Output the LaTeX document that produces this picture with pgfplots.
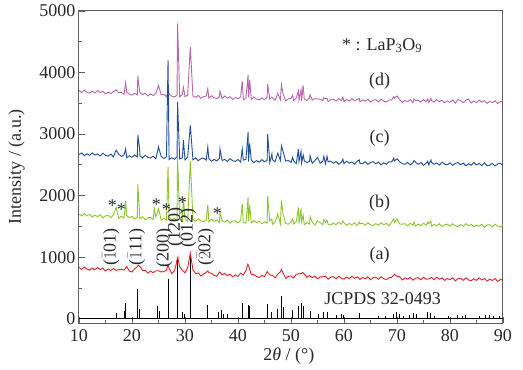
\documentclass[border=0pt]{standalone}
\usepackage{pgfplots}
\pgfplotsset{compat=1.18}
\usepackage{fontspec}
\setmainfont{Liberation Serif}
\definecolor{cRed}{RGB}{228,32,36}
\definecolor{cGreen}{RGB}{140,198,45}
\definecolor{cBlue}{RGB}{32,78,160}
\definecolor{cPurple}{RGB}{182,102,172}
\definecolor{cFrame}{RGB}{95,95,95}
\definecolor{cText}{RGB}{40,40,40}
\begin{document}
\begin{tikzpicture}
\path[use as bounding box] (-79pt,-47pt) rectangle (444pt,323pt);
\begin{axis}[
  scale only axis, width=424pt, height=312pt,
  xmin=10, xmax=90, ymin=-70, ymax=5000,
  xtick={10,20,...,90}, ytick={0,1000,...,5000},
  minor x tick num=1, minor y tick num=1,
  tick pos=left, tick align=inside,
  major tick length=6pt, minor tick length=3.5pt,
  axis line style={draw=cFrame, line width=1pt},
  every tick/.style={draw=cFrame, line width=0.8pt},
  /pgf/number format/assume math mode=true,
  /pgf/number format/1000 sep={},
  tick label style={font=\fontsize{18}{20}\selectfont, text=cText},
  xticklabel style={yshift=-3pt},
  xlabel={2\textit{θ} / (°)}, ylabel={Intensity / (a.u.)},
  label style={font=\fontsize{18}{20}\selectfont, text=cText},
  xlabel style={at={(axis description cs:0.495,-0.105)}, anchor=center},
  ylabel style={at={(axis description cs:-0.147,0.5)}, anchor=center},
]
% JCPDS 32-0493 reference sticks
\addplot[black, line width=0.5pt, forget plot] coordinates {(10,0) (90,0)};
\addplot[ycomb, black, line width=1pt, mark=none] table[row sep=\\] {
x y\\
17.0 100\\ 18.5 130\\ 18.8 250\\ 21.1 480\\ 21.4 160\\ 24.9 200\\ 25.1 130\\
26.8 640\\ 28.6 950\\ 29.5 110\\ 29.9 80\\ 31.0 1000\\ 34.3 230\\ 36.4 110\\
36.8 140\\ 37.3 80\\ 38.0 70\\ 40.8 250\\ 41.9 230\\ 42.2 210\\ 45.6 240\\
46.4 110\\ 47.5 160\\ 48.2 370\\ 48.5 190\\ 50.3 140\\ 51.4 210\\ 51.9 260\\
52.3 210\\ 53.6 130\\ 55.1 70\\ 56.2 110\\ 56.8 110\\ 58.6 60\\ 59.6 80\\
60.0 55\\ 62.9 90\\ 66.5 40\\ 67.8 50\\ 69.3 80\\ 69.9 110\\ 70.4 70\\
71.2 50\\ 72.3 55\\ 73.1 90\\ 73.6 70\\ 75.8 110\\ 76.4 90\\ 77.0 50\\
79.7 40\\ 81.4 60\\ 82.3 50\\ 83.0 60\\ 85.5 50\\ 86.7 60\\ 87.4 60\\
88.3 45\\ 89.3 45\\
};
% (a)
\addplot[cRed, line width=0.9pt, mark=none] table[row sep=\\] {
x y\\
10 835\\ 10.5 800\\ 11 840\\ 11.5 805\\ 12 790\\ 12.5 822\\ 13 793\\ 13.5 833\\
14 798\\ 14.5 820\\ 15 776\\ 15.5 807\\ 16 784\\ 16.5 815\\ 17 785\\ 17.5 796\\
18 803\\ 18.5 788\\ 19 848\\ 19.5 773\\ 20 758\\ 20.5 810\\ 21 845\\ 21.2 870\\
21.5 850\\ 22 784\\ 22.5 786\\ 23 741\\ 23.5 772\\ 24 748\\ 24.5 779\\ 25 778\\
25.5 759\\ 26 765\\ 26.5 790\\ 26.8 880\\ 27 819\\ 27.5 734\\ 28 778\\ 28.3 870\\
28.5 960\\ 28.65 1000\\ 29 840\\ 29.5 790\\ 30 744\\ 30.5 827\\ 31 1065\\ 31.5 795\\
32 732\\ 32.5 744\\ 33 694\\ 33.5 726\\ 34 753\\ 34.3 775\\ 34.5 749\\ 35 739\\
35.5 705\\ 36 690\\ 36.5 758\\ 37 714\\ 37.5 735\\ 38 700\\ 38.5 723\\ 39 679\\
39.5 711\\ 40 688\\ 40.5 740\\ 41 711\\ 41.5 783\\ 41.85 885\\ 42 861\\ 42.5 717\\
43 718\\ 43.5 684\\ 44 670\\ 44.5 703\\ 45 685\\ 45.5 766\\ 46 712\\ 46.5 705\\
47 662\\ 47.5 724\\ 48 762\\ 48.2 800\\ 48.5 744\\ 49 655\\ 49.5 687\\ 50 695\\
50.5 661\\ 51 722\\ 51.5 729\\ 52 735\\ 52.2 752\\ 52.5 728\\ 53 671\\ 53.5 701\\
54 668\\ 54.5 691\\ 55 648\\ 55.5 680\\ 56 679\\ 56.5 691\\ 57 642\\ 57.5 674\\
58 683\\ 58.5 649\\ 59 690\\ 59.5 656\\ 60 643\\ 60.5 676\\ 61 649\\ 61.5 690\\
62 657\\ 62.5 680\\ 63 638\\ 63.5 670\\ 64 649\\ 64.5 681\\ 65 633\\ 65.5 665\\
66 674\\ 66.5 640\\ 67 682\\ 67.5 648\\ 68 635\\ 68.5 668\\ 69 671\\ 69.5 722\\
70 689\\ 70.5 682\\ 71 630\\ 71.5 662\\ 72 641\\ 72.5 673\\ 73 625\\ 73.5 657\\
74 666\\ 74.5 632\\ 75 674\\ 75.5 640\\ 76 647\\ 76.5 670\\ 77 633\\ 77.5 674\\
78 641\\ 78.5 664\\ 79 622\\ 79.5 654\\ 80 633\\ 80.5 665\\ 81 616\\ 81.5 648\\
82 657\\ 82.5 623\\ 83 664\\ 83.5 630\\ 84 617\\ 84.5 650\\ 85 622\\ 85.5 663\\
86 630\\ 86.5 653\\ 87 610\\ 87.5 642\\ 88 621\\ 88.5 653\\ 89 604\\ 89.5 636\\
90 645\\
};
% (b)
\addplot[cGreen, line width=0.9pt, mark=none] table[row sep=\\] {
x y\\
10 1697\\ 10.5 1668\\ 11 1708\\ 11.5 1673\\ 12 1695\\ 12.5 1651\\ 13 1682\\ 13.5 1659\\
14 1690\\ 14.5 1640\\ 15 1671\\ 15.5 1678\\ 16 1643\\ 16.5 1683\\ 17 1810\\ 17.5 1633\\
18 1665\\ 18.5 1636\\ 18.8 1910\\ 19 1676\\ 19.5 1641\\ 20 1663\\ 20.5 1619\\ 21 1650\\
21.1 2190\\ 21.4 1760\\ 21.5 1627\\ 22 1658\\ 22.5 1608\\ 23 1639\\ 23.5 1646\\ 24 1611\\
24.2 1790\\ 24.5 1651\\ 25 1790\\ 25.5 1601\\ 26 1633\\ 26.5 1604\\ 26.8 2470\\ 27 1644\\
27.5 1609\\ 28 1631\\ 28.5 1587\\ 28.6 2620\\ 29 1618\\ 29.5 1595\\ 29.7 1950\\ 30 1626\\
30.5 1576\\ 31 2560\\ 31.5 1615\\ 32 1581\\ 32.5 1621\\ 33 1587\\ 33.5 1572\\ 34 1605\\
34.3 1850\\ 34.5 1576\\ 35 1617\\ 35.5 1582\\ 36 1605\\ 36.5 1561\\ 36.6 1720\\ 37 1593\\
37.5 1570\\ 38 1602\\ 38.5 1552\\ 39 1584\\ 39.5 1591\\ 40 1557\\ 40.5 1598\\ 40.8 1870\\
41 1564\\ 41.5 1550\\ 41.9 1970\\ 42 1583\\ 42.2 1850\\ 42.5 1555\\ 43 1596\\ 43.5 1562\\
44 1585\\ 44.5 1542\\ 45 1574\\ 45.5 1552\\ 45.6 1990\\ 46 1584\\ 46.4 1620\\ 46.5 1535\\
47 1567\\ 47.5 1700\\ 48 1541\\ 48.2 1920\\ 48.5 1700\\ 49 1548\\ 49.5 1534\\ 50 1567\\
50.3 1620\\ 50.5 1539\\ 51 1580\\ 51.4 1810\\ 51.5 1547\\ 51.9 1790\\ 52 1570\\ 52.3 1680\\
52.5 1527\\ 53 1560\\ 53.5 1538\\ 53.6 1660\\ 54 1570\\ 54.5 1521\\ 55 1590\\ 55.5 1562\\
56 1528\\ 56.2 1610\\ 56.5 1569\\ 56.8 1600\\ 57 1536\\ 57.5 1522\\ 58 1555\\ 58.5 1527\\
59 1569\\ 59.5 1535\\ 59.8 1590\\ 60 1558\\ 60.5 1516\\ 61 1548\\ 61.5 1527\\ 62 1559\\
62.5 1511\\ 62.9 1570\\ 63 1543\\ 63.5 1552\\ 64 1518\\ 64.5 1560\\ 65 1526\\ 65.5 1513\\
66 1546\\ 66.5 1519\\ 67 1560\\ 67.5 1527\\ 68 1550\\ 68.5 1508\\ 69 1570\\ 69.4 1630\\
69.5 1560\\ 70 1620\\ 70.5 1540\\ 71 1535\\ 71.5 1544\\ 72 1510\\ 72.5 1552\\ 73 1518\\
73.2 1570\\ 73.5 1504\\ 74 1538\\ 74.5 1511\\ 75 1552\\ 75.5 1519\\ 75.8 1570\\ 76 1542\\
76.4 1590\\ 76.5 1500\\ 77 1532\\ 77.5 1511\\ 78 1543\\ 78.5 1495\\ 79 1527\\ 79.5 1536\\
80 1502\\ 80.5 1544\\ 81 1510\\ 81.5 1497\\ 82 1530\\ 82.5 1503\\ 83 1544\\ 83.5 1511\\
84 1534\\ 84.5 1492\\ 85 1524\\ 85.5 1503\\ 86 1535\\ 86.5 1487\\ 87 1519\\ 87.5 1528\\
88 1494\\ 88.5 1536\\ 89 1502\\ 89.5 1489\\ 90 1522\\
};
% (d)
\addplot[cPurple, line width=0.9pt, mark=none] table[row sep=\\] {
x y\\
10 3710\\ 10.5 3675\\ 11 3715\\ 11.5 3680\\ 12 3665\\ 12.5 3697\\ 13 3668\\ 13.5 3708\\
14 3673\\ 14.5 3695\\ 15 3651\\ 15.5 3682\\ 16 3659\\ 16.5 3690\\ 17 3720\\ 17.5 3671\\
18 3678\\ 18.5 3643\\ 18.8 3835\\ 19 3683\\ 19.5 3648\\ 20 3633\\ 20.5 3665\\ 21 3636\\
21.1 3945\\ 21.4 3720\\ 21.5 3676\\ 22 3641\\ 22.5 3663\\ 23 3619\\ 23.5 3650\\ 24 3627\\
24.5 3658\\ 25 3790\\ 25.5 3639\\ 26 3646\\ 26.5 3611\\ 26.8 3700\\ 27 3651\\ 27.5 3616\\
28 3601\\ 28.5 3633\\ 28.6 4800\\ 29 3604\\ 29.5 3644\\ 29.7 3760\\ 30 3609\\ 30.5 3631\\
31 4415\\ 31.5 3619\\ 32 3597\\ 32.5 3628\\ 33 3579\\ 33.5 3610\\ 34 3618\\ 34.3 3740\\
34.5 3583\\ 35 3624\\ 35.5 3589\\ 36 3575\\ 36.5 3607\\ 36.6 3700\\ 37 3579\\ 37.5 3619\\
38 3585\\ 38.5 3607\\ 39 3564\\ 39.5 3595\\ 40 3573\\ 40.5 3605\\ 40.8 3860\\ 41 3556\\
41.5 3588\\ 41.9 3960\\ 42 3596\\ 42.2 3880\\ 42.5 3562\\ 43 3603\\ 43.5 3569\\ 44 3555\\
44.5 3588\\ 45 3560\\ 45.5 3601\\ 45.6 3810\\ 46 3567\\ 46.4 3600\\ 46.5 3590\\ 47 3547\\
47.5 3660\\ 48 3557\\ 48.2 3800\\ 48.5 3650\\ 49 3540\\ 49.5 3572\\ 50 3580\\ 50.3 3630\\
50.5 3546\\ 51 3588\\ 51.4 3700\\ 51.5 3554\\ 51.9 3720\\ 52 3540\\ 52.3 3790\\ 52.5 3573\\
53 3546\\ 53.5 3587\\ 53.6 3640\\ 54 3553\\ 54.5 3576\\ 55 3570\\ 55.5 3566\\ 56 3544\\
56.2 3590\\ 56.5 3576\\ 56.8 3580\\ 57 3528\\ 57.5 3560\\ 58 3568\\ 58.5 3534\\ 59 3576\\
59.5 3542\\ 59.8 3600\\ 60 3528\\ 60.5 3562\\ 61 3534\\ 61.5 3576\\ 62 3542\\ 62.5 3566\\
62.9 3580\\ 63 3523\\ 63.5 3556\\ 64 3534\\ 64.5 3567\\ 65 3518\\ 65.5 3551\\ 66 3559\\
66.5 3526\\ 67 3567\\ 67.5 3534\\ 68 3520\\ 68.5 3554\\ 69 3556\\ 69.4 3610\\ 69.5 3580\\
70 3620\\ 70.5 3558\\ 71 3515\\ 71.5 3548\\ 72 3526\\ 72.5 3559\\ 73 3510\\ 73.2 3570\\
73.5 3543\\ 74 3551\\ 74.5 3518\\ 75 3559\\ 75.5 3526\\ 75.8 3570\\ 76 3512\\ 76.4 3580\\
76.5 3546\\ 77 3518\\ 77.5 3560\\ 78 3526\\ 78.5 3550\\ 79 3507\\ 79.5 3540\\ 80 3518\\
80.5 3551\\ 81 3502\\ 81.5 3560\\ 82 3543\\ 82.5 3510\\ 83 3551\\ 83.5 3570\\ 84 3504\\
84.5 3538\\ 85 3510\\ 85.5 3552\\ 86 3518\\ 86.5 3542\\ 87 3499\\ 87.5 3532\\ 88 3510\\
88.5 3543\\ 89 3494\\ 89.5 3527\\ 90 3535\\
};
% (c)
\addplot[cBlue, line width=0.9pt, mark=none] table[row sep=\\] {
x y\\
10 2668\\ 10.5 2693\\ 11 2649\\ 11.5 2680\\ 12 2654\\ 12.5 2694\\ 13 2659\\ 13.5 2678\\
14 2643\\ 14.5 2689\\ 15 2654\\ 15.5 2643\\ 16 2674\\ 16.5 2630\\ 17 2740\\ 17.5 2672\\
18 2636\\ 18.5 2661\\ 18.8 2760\\ 19 2617\\ 19.5 2648\\ 20 2622\\ 20.5 2662\\ 21 2627\\
21.1 2985\\ 21.4 2790\\ 21.5 2646\\ 22 2611\\ 22.5 2657\\ 23 2622\\ 23.5 2611\\ 24 2642\\
24.5 2598\\ 25 2790\\ 25.5 2640\\ 26 2604\\ 26.5 2629\\ 26.8 4200\\ 27 2585\\ 27.5 2616\\
28 2590\\ 28.5 2630\\ 28.6 3520\\ 29 2595\\ 29.5 2614\\ 29.7 2900\\ 30 2579\\ 30.5 2625\\
31 3140\\ 31.5 2580\\ 32 2612\\ 32.5 2568\\ 33 2600\\ 33.5 2611\\ 34 2576\\ 34.3 2790\\
34.5 2601\\ 35 2558\\ 35.5 2589\\ 36 2564\\ 36.5 2604\\ 36.6 2760\\ 37 2570\\ 37.5 2589\\
38 2555\\ 38.5 2601\\ 39 2567\\ 39.5 2556\\ 40 2588\\ 40.5 2545\\ 40.8 2760\\ 41 2577\\
41.5 2589\\ 41.9 3030\\ 42 2554\\ 42.2 2850\\ 42.5 2580\\ 43 2537\\ 43.5 2569\\ 44 2544\\
44.5 2585\\ 45 2551\\ 45.5 2571\\ 45.6 3000\\ 46 2537\\ 46.4 2680\\ 46.5 2584\\ 47 2550\\
47.5 2690\\ 48 2572\\ 48.2 2810\\ 48.5 2720\\ 49 2561\\ 49.5 2573\\ 50 2538\\ 50.3 2620\\
50.5 2564\\ 51 2521\\ 51.4 2760\\ 51.5 2554\\ 51.9 2720\\ 52 2529\\ 52.3 2660\\ 52.5 2570\\
53 2536\\ 53.5 2557\\ 53.6 2650\\ 54 2523\\ 54.5 2570\\ 55 2620\\ 55.5 2527\\ 56 2559\\
56.2 2640\\ 56.5 2516\\ 56.8 2640\\ 57 2549\\ 57.5 2561\\ 58 2526\\ 58.5 2552\\ 59 2510\\
59.5 2542\\ 59.8 2590\\ 60 2517\\ 60.5 2559\\ 61 2525\\ 61.5 2546\\ 62 2512\\ 62.5 2560\\
62.9 2580\\ 63 2526\\ 63.5 2517\\ 64 2549\\ 64.5 2507\\ 65 2539\\ 65.5 2552\\ 66 2517\\
66.5 2544\\ 67 2501\\ 67.5 2534\\ 68 2509\\ 68.5 2551\\ 69 2547\\ 69.4 2610\\ 69.5 2560\\
70 2600\\ 70.5 2551\\ 71 2518\\ 71.5 2509\\ 72 2541\\ 72.5 2499\\ 73 2531\\ 73.2 2570\\
73.5 2543\\ 74 2509\\ 74.5 2536\\ 75 2493\\ 75.5 2526\\ 75.8 2560\\ 76 2501\\ 76.4 2580\\
76.5 2543\\ 77 2509\\ 77.5 2530\\ 78 2496\\ 78.5 2544\\ 79 2510\\ 79.5 2501\\ 80 2533\\
80.5 2491\\ 81 2523\\ 81.5 2536\\ 82 2501\\ 82.5 2528\\ 83 2485\\ 83.5 2518\\ 84 2493\\
84.5 2535\\ 85 2501\\ 85.5 2522\\ 86 2488\\ 86.5 2535\\ 87 2484\\ 87.5 2493\\ 88 2525\\
88.5 2482\\ 89 2515\\ 89.5 2527\\ 90 2490\\
};
% annotations
\begin{scope}[every node/.style={font=\fontsize{18}{20}\selectfont, text=cText}]
\node at (axis cs:66.7,1030) {(a)};
\node at (axis cs:66.7,1870) {(b)};
\node at (axis cs:66.7,2935) {(c)};
\node at (axis cs:66.7,3855) {(d)};
\node at (axis cs:67.2,4440) {* : LaP\textsubscript{3}O\textsubscript{9}};
\node at (axis cs:67.3,330) {JCPDS 32-0493};
\node[rotate=90] at (axis cs:16.0,1165) {($\bar{1}$01)};
\node[rotate=90] at (axis cs:20.85,1165) {($\bar{1}$11)};
\node[rotate=90] at (axis cs:26.1,1147) {(200)};
\node[rotate=90] at (axis cs:28.2,1490) {(120)};
\node[rotate=90] at (axis cs:30.6,1470) {(012)};
\node[rotate=90] at (axis cs:33.9,1165) {($\bar{2}$02)};
\node at (axis cs:16.3,1836) {*};
\node at (axis cs:18.0,1780) {*};
\node at (axis cs:24.6,1850) {*};
\node at (axis cs:26.5,1780) {*};
\node at (axis cs:29.5,1890) {*};
\node at (axis cs:36.1,1710) {*};
\end{scope}
\end{axis}
\end{tikzpicture}
\end{document}
